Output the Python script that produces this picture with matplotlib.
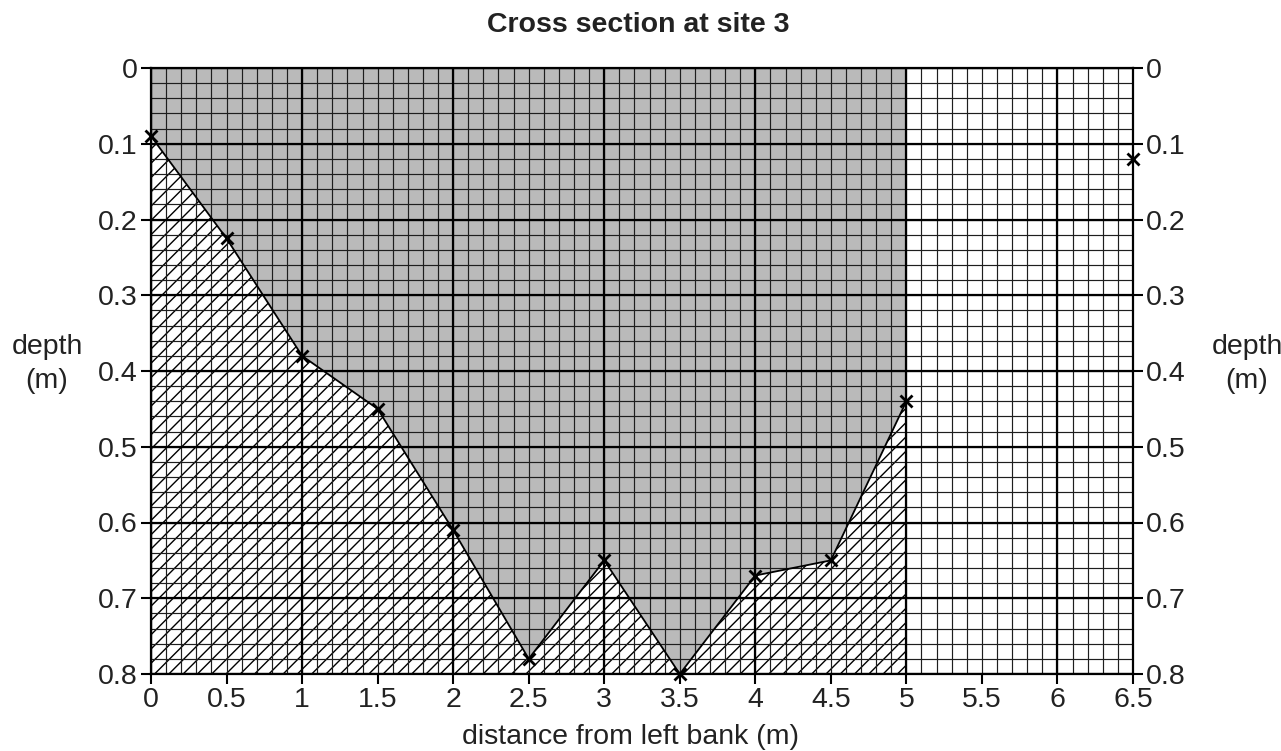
import matplotlib
matplotlib.use("Agg")
import matplotlib.pyplot as plt
import numpy as np
from matplotlib.backend_bases import GraphicsContextBase

plt.rcParams['font.family'] = ['Liberation Sans', 'DejaVu Sans']
plt.rcParams['hatch.linewidth'] = 1.0

# denser hatch (about one diagonal per grid cell)
_orig_hatch = GraphicsContextBase.get_hatch_path
def _dense_hatch(self, density=6.0):
    return _orig_hatch(self, density=14.0)
GraphicsContextBase.get_hatch_path = _dense_hatch

# data
distance = [0, 0.5, 1, 1.5, 2, 2.5, 3, 3.5, 4, 4.5, 5]
depth = [0.09, 0.225, 0.38, 0.45, 0.61, 0.78, 0.65, 0.80, 0.67, 0.65, 0.44]
extra_x = [6.5]
extra_y = [0.12]
x_ticks = [0, 0.5, 1, 1.5, 2, 2.5, 3, 3.5, 4, 4.5, 5, 5.5, 6, 6.5]
x_tick_labels = ['0', '0.5', '1', '1.5', '2', '2.5', '3', '3.5', '4', '4.5', '5', '5.5', '6', '6.5']
y_ticks = [0, 0.1, 0.2, 0.3, 0.4, 0.5, 0.6, 0.7, 0.8]
y_tick_labels = ['0', '0.1', '0.2', '0.3', '0.4', '0.5', '0.6', '0.7', '0.8']

fig = plt.figure(figsize=(12.81, 7.51), dpi=100)
ax = fig.add_axes([151/1281, 1 - 674/751, (1133-151)/1281, (674-68)/751])

ax.set_xlim(0, 6.5)
ax.set_ylim(0.8, 0)

# water region (grey) above the bed
ax.fill_between(distance, 0, depth, facecolor='#bababa', edgecolor='none', zorder=0.5)
# ground region (hatched) below the bed
ax.fill_between(distance, depth, 0.8, facecolor='white', edgecolor='black',
                hatch='/', linewidth=0, zorder=0.6)

# graph-paper grid
xmin_lines = np.arange(0, 6.5001, 0.1)
ymin_lines = np.arange(0, 0.8001, 0.02)
ax.vlines(xmin_lines, 0, 0.8, colors='#1e1e1e', linewidth=0.85, zorder=1.5)
ax.hlines(ymin_lines, 0, 6.5, colors='#1e1e1e', linewidth=0.85, zorder=1.5)
ax.vlines(np.arange(0, 6.5001, 1.0), 0, 0.8, colors='black', linewidth=1.6, zorder=1.6)
ax.hlines(np.arange(0, 0.8001, 0.1), 0, 6.5, colors='black', linewidth=1.6, zorder=1.6)

ax.plot(distance, depth, color='black', linewidth=1.3, zorder=3)
ax.plot(distance, depth, linestyle='none', marker='x', markersize=9,
        markeredgewidth=2, color='black', zorder=4, clip_on=False)
ax.plot(extra_x, extra_y, linestyle='none', marker='x', markersize=9,
        markeredgewidth=2, color='black', zorder=4, clip_on=False)

ax.set_xticks(x_ticks)
ax.set_xticklabels(x_tick_labels)
ax.set_yticks(y_ticks)
ax.set_yticklabels(y_tick_labels)
ax.tick_params(which='major', direction='out', length=7.5, width=1.5,
               labelsize=20.5, left=True, right=True, labelleft=True,
               labelright=True, top=False, bottom=True, pad=2,
               color='black', labelcolor='#222222')
for s in ax.spines.values():
    s.set_linewidth(1.6)
    s.set_zorder(5)

fig.text(630/1281, 1 - 737/751, 'distance from left bank (m)', fontsize=20.5,
         ha='center', va='center', color='#222222')
fig.text(47/1281, 1 - 364/751, 'depth\n(m)', fontsize=20.5, ha='center', va='center',
         linespacing=1.4, color='#222222')
fig.text(1247/1281, 1 - 364/751, 'depth\n(m)', fontsize=20.5, ha='center', va='center',
         linespacing=1.4, color='#222222')
fig.text(638/1281, 1 - 25/751, 'Cross section at site 3', fontsize=20.5,
         fontweight='bold', ha='center', va='center', color='#222222')

fig.savefig('out.png', dpi=100)
